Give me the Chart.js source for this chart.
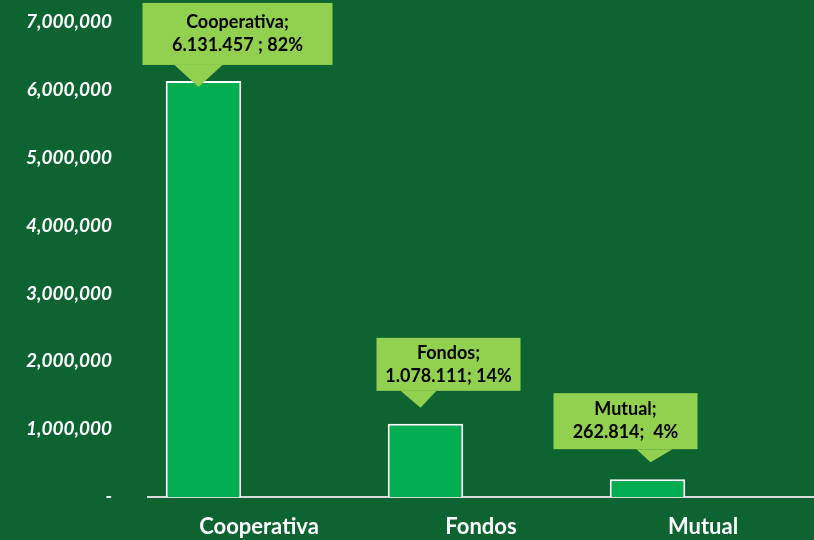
<!DOCTYPE html>
<html lang="es">
<head>
  <meta charset="UTF-8">
  <title>Cooperativa, Fondos, Mutual</title>
  <script src="https://cdn.jsdelivr.net/npm/chart.js"></script>
  <style>
    html, body { margin: 0; padding: 0; background: #0e6431; }
    #wrap { width: 814px; height: 540px; }
  </style>
</head>
<body>
  <div id="wrap"><canvas id="grafico" width="814" height="540"></canvas></div>
  <script>
    // Datos
    const categorias = ['Cooperativa', 'Fondos', 'Mutual'];
    const valores = [6131457, 1078111, 262814];
    const etiquetas = [
      ['Cooperativa;', '6.131.457 ; 82%'],
      ['Fondos;', '1.078.111; 14%'],
      ['Mutual;', '262.814;  4%']
    ];
    const ticksY = [0, 1000000, 2000000, 3000000, 4000000, 5000000, 6000000, 7000000];

    // Globos de texto sobre cada barra
    const globos = {
      id: 'globos',
      afterDatasetsDraw(chart, args, opts) {
        const ctx = chart.ctx;
        const meta = chart.getDatasetMeta(0);
        ctx.save();
        meta.data.forEach((bar, i) => {
          const g = opts.formas[i];
          const cx = bar.x, ty = bar.y;
          const left = cx + g.dx, bottom = ty + g.gap, top = bottom - g.h;
          ctx.fillStyle = '#92d050';
          ctx.fillRect(left, top, g.w, g.h);
          ctx.beginPath();
          ctx.moveTo(cx + g.b0, bottom);
          ctx.lineTo(cx + g.tx, ty + g.ty);
          ctx.lineTo(cx + g.b1, bottom);
          ctx.closePath();
          ctx.fill();
          ctx.fillStyle = '#000';
          ctx.font = 'bold 18px Lato';
          ctx.textAlign = 'center';
          ctx.textBaseline = 'middle';
          const mid = top + g.h / 2;
          ctx.fillText(etiquetas[i][0], left + g.w / 2, mid - 11.5);
          ctx.fillText(etiquetas[i][1], left + g.w / 2, mid + 11.5);
        });
        ctx.restore();
      }
    };

    const ctx = document.getElementById('grafico').getContext('2d');
    const grafico = new Chart(ctx, {
      type: 'bar',
      data: {
        labels: categorias,
        datasets: [
          {
            data: valores,
            backgroundColor: '#00ae4f',
            borderColor: '#ffffff',
            borderWidth: 2,
            borderSkipped: 'bottom',
            barPercentage: 0.68,
            categoryPercentage: 1
          },
          {
            data: [0, 0, 0],
            backgroundColor: '#c8b27a',
            barPercentage: 0.68,
            categoryPercentage: 1
          }
        ]
      },
      options: {
        responsive: false,
        animation: false,
        layout: { padding: { top: 22, right: 0, left: 0, bottom: 0 } },
        plugins: {
          legend: { display: false },
          tooltip: { enabled: false },
          globos: {
            formas: [
              { dx: -61, w: 190, h: 62, gap: -16, tx: -5, ty: 6, b0: -29, b1: 19 },
              { dx: -49, w: 144, h: 53, gap: -33, tx: -5, ty: -16, b0: -25, b1: 11 },
              { dx: -94, w: 144, h: 56, gap: -30, tx: 3, ty: -17, b0: -11, b1: 25 }
            ]
          }
        },
        scales: {
          x: {
            grid: { display: false, drawTicks: false },
            border: { display: true, color: '#d9d9d9', width: 2 },
            ticks: { color: '#ffffff', font: { family: 'Lato', size: 22, weight: 'bold' }, padding: 17 },
            afterFit(s) { s.height = 43; s.paddingLeft = 0; s.paddingRight = 0; }
          },
          y: {
            min: 0,
            max: 7000000,
            afterBuildTicks(s) { s.ticks = ticksY.map(v => ({ value: v })); },
            grid: { display: false, drawTicks: false },
            border: { display: false },
            ticks: {
              color: '#ffffff',
              padding: 36,
              font: { family: 'Lato', size: 19, weight: 'bold', style: 'italic' },
              callback: v => v === 0 ? '-' : v.toLocaleString('en-US')
            },
            afterFit(s) { s.width = 148; s.paddingTop = 0; s.paddingBottom = 0; }
          }
        }
      },
      plugins: [globos]
    });
  </script>
</body>
</html>
